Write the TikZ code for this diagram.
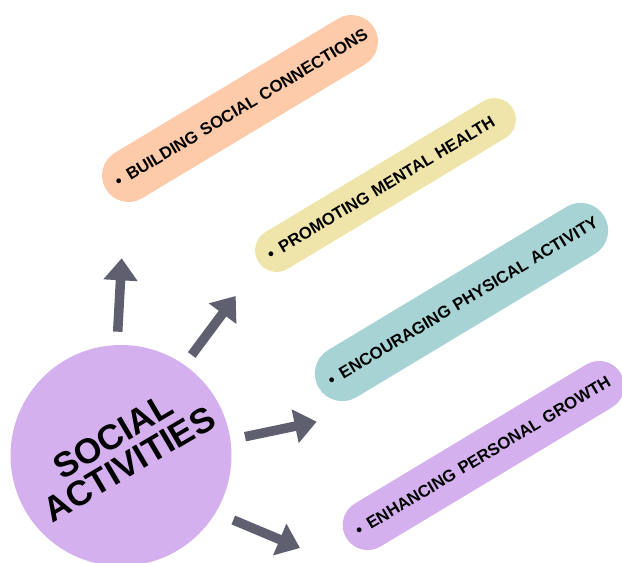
\documentclass[tikz,border=0pt]{standalone}
\usepackage{fontspec}
\setmainfont{Liberation Sans}
\usetikzlibrary{arrows.meta}
\definecolor{peach}{HTML}{FDCAAA}
\definecolor{butter}{HTML}{EFE5AA}
\definecolor{aqua}{HTML}{A8D3D4}
\definecolor{lilac}{HTML}{D4B1EE}
\definecolor{arrowgray}{HTML}{605F70}
\newcommand{\pilltext}[1]{\mbox{\textbullet\hspace{7.5pt}#1}}
\begin{document}
\begin{tikzpicture}[x=1pt,y=-1pt,
  pill/.style={rotate=31, inner xsep=12pt, inner ysep=0pt, align=left,
    font=\fontsize{16.7}{19}\selectfont\bfseries, text=black, anchor=center},
  hub/.style={circle, fill=lilac, minimum size=221pt, inner sep=0pt},
  hubtext/.style={rotate=30.5, align=center, font=\fontsize{35}{32}\selectfont\bfseries, text=black},
  arr/.style={draw=arrowgray, line width=9.5pt, -{Triangle[width=33pt,length=22pt]}, fill=arrowgray}
]
\useasboundingbox (0,0) rectangle (622,563);

% central circle
\node[hub] (hub) at (121,455.5) {};
\node[hubtext] (hubtext) at (121,450) {SOCIAL\\ACTIVITIES};

% pills
\node[pill, fill=peach, minimum height=53pt, text width=289pt, rounded corners=26.4pt]
  (p1) at (240,108.5) {\pilltext{BUILDING SOCIAL CONNECTIONS}};
\node[pill, fill=butter, minimum height=43pt, text width=273pt, rounded corners=21.4pt]
  (p2) at (385.5,185) {\pilltext{PROMOTING MENTAL HEALTH}};
\node[pill, fill=aqua, minimum height=55pt, text width=309pt, rounded corners=27.4pt]
  (p3) at (461.5,302) {\pilltext{ENCOURAGING PHYSICAL ACTIVITY}};
\node[pill, fill=lilac, minimum height=50pt, text width=296pt, rounded corners=24.9pt]
  (p4) at (483.4,455.5) {\pilltext{ENHANCING PERSONAL GROWTH}};

% arrow end points
\coordinate (s1) at (117.7,331.7);
\coordinate (t1) at (121.7,258.3);
\coordinate (s2) at (191.7,355);
\coordinate (t2) at (235.7,296);
\coordinate (s3) at (245,436.7);
\coordinate (t3) at (316.7,421.7);
\coordinate (s4) at (233.3,520);
\coordinate (t4) at (300,548);

\draw[arr] (s1) -- (t1);
\draw[arr] (s2) -- (t2);
\draw[arr] (s3) -- (t3);
\draw[arr] (s4) -- (t4);
\end{tikzpicture}
\end{document}
